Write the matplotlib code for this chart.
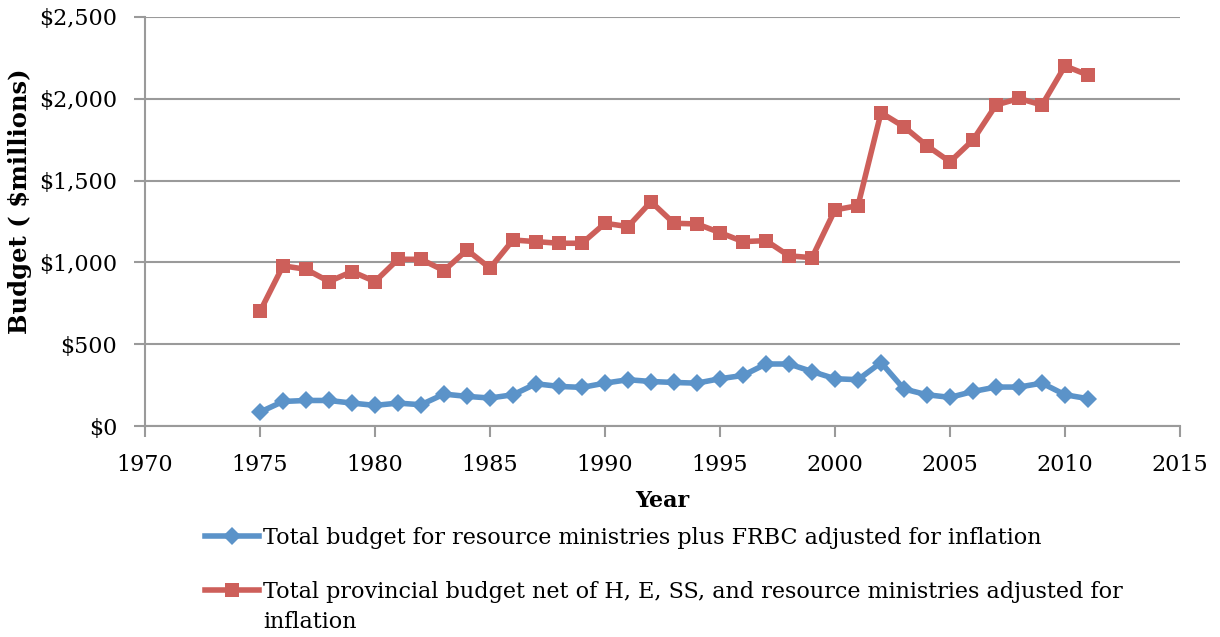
import matplotlib
matplotlib.use("Agg")
import matplotlib.pyplot as plt
from matplotlib.ticker import FuncFormatter, MultipleLocator

years = list(range(1975, 2012))

resource_budget = [85, 150, 156, 156, 140, 126, 140, 130, 195, 181, 171, 191,
                   258, 242, 236, 262, 283, 272, 266, 262, 289, 309, 379, 379,
                   333, 289, 283, 388, 226, 191, 175, 211, 238, 238, 262, 191,
                   167]

provincial_budget = [700, 979, 958, 883, 944, 883, 1019, 1019, 950, 1076, 965,
                     1137, 1127, 1117, 1117, 1239, 1219, 1371, 1239, 1235, 1182,
                     1127, 1133, 1040, 1029, 1321, 1347, 1915, 1829, 1713, 1615,
                     1748, 1962, 2002, 1962, 2201, 2145]

series_labels = [
    "Total budget for resource ministries plus FRBC adjusted for inflation",
    "Total provincial budget net of H, E, SS, and resource ministries adjusted for\ninflation",
]

x_label = "Year"
y_label = "Budget ( $millions)"

BLUE = "#5B93C9"
RED = "#CD5F5A"
GRID = "#9A9A9A"
FS = 16

plt.rcParams["font.family"] = ["DejaVu Serif"]

fig = plt.figure(figsize=(12.2, 6.37), dpi=100)
ax = fig.add_axes([145 / 1220, 1 - 426 / 637, (1180 - 145) / 1220, (426 - 17) / 637])

ax.plot(years, resource_budget, color=BLUE, lw=4, marker="D", ms=9,
        markeredgewidth=0, solid_joinstyle="round")
ax.plot(years, provincial_budget, color=RED, lw=4, marker="s", ms=9.5,
        markeredgewidth=0, solid_joinstyle="round")

ax.set_xlim(1970, 2015)
ax.set_ylim(0, 2500)
ax.xaxis.set_major_locator(MultipleLocator(5))
ax.yaxis.set_major_locator(MultipleLocator(500))
ax.yaxis.set_major_formatter(FuncFormatter(lambda v, p: f"${v:,.0f}"))

ax.grid(axis="y", color=GRID, lw=1.5)
ax.set_axisbelow(True)
for side in ("top", "right"):
    ax.spines[side].set_visible(False)
for side in ("left", "bottom"):
    ax.spines[side].set_color(GRID)
    ax.spines[side].set_linewidth(1.5)
ax.tick_params(axis="both", colors=GRID, width=1.5, length=8, labelsize=FS,
               labelcolor="black")
ax.tick_params(axis="y", pad=12)
ax.tick_params(axis="x", pad=12)

ax.set_xlabel(x_label, fontsize=FS, fontweight="bold", labelpad=10)
ax.set_ylabel(y_label, fontsize=17.5, fontweight="bold")
ax.yaxis.set_label_coords((20 - 145) / 1035, (426 - 201) / 409)
ax.yaxis.label.set_verticalalignment("center")
ax.yaxis.label.set_horizontalalignment("center")

# Legend: first line of each label sits beside its handle; any wrapped
# continuation line is set underneath, aligned with the label text.
first_lines = [s.split("\n")[0] for s in series_labels]
leg = fig.legend(ax.get_lines(), first_lines, loc="upper left",
                 bbox_to_anchor=(205 / 1220, 1 - 527 / 637),
                 frameon=False, fontsize=FS, handlelength=2.45,
                 handletextpad=0.18, labelspacing=1.45, borderaxespad=0,
                 borderpad=0)

fig.canvas.draw()
renderer = fig.canvas.get_renderer()
line_step = 30 / 637
for txt, full in zip(leg.get_texts(), series_labels):
    extra = full.split("\n")[1:]
    if not extra:
        continue
    bb = txt.get_window_extent(renderer).transformed(fig.transFigure.inverted())
    for k, piece in enumerate(extra, start=1):
        fig.text(bb.x0, (bb.y0 + bb.y1) / 2 - k * line_step, piece,
                 fontsize=FS, ha="left", va="center")

fig.savefig("out.png", dpi=100)
